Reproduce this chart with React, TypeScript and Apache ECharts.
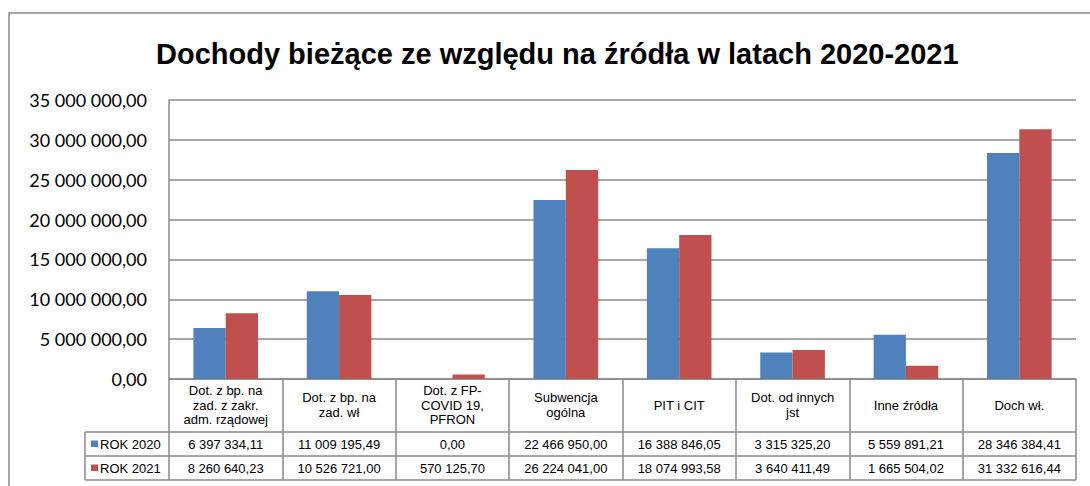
import React, { useEffect, useRef } from "react";
import * as echarts from "echarts";

const titleText = "Dochody bieżące ze względu na źródła w latach 2020-2021";
const categories = [
  "Dot. z bp. na\nzad. z zakr.\nadm. rządowej",
  "Dot. z bp. na\nzad. wł",
  "Dot. z FP-\nCOVID 19,\nPFRON",
  "Subwencja\nogólna",
  "PIT i CIT",
  "Dot. od innych\njst",
  "Inne źródła",
  "Doch wł.",
];
const seriesNames = ["ROK 2020", "ROK 2021"];
const values2020 = [6397334.11, 11009195.49, 0.0, 22466950.0, 16388846.05, 3315325.2, 5559891.21, 28346384.41];
const values2021 = [8260640.23, 10526721.0, 570125.7, 26224041.0, 18074993.58, 3640411.49, 1665504.02, 31332616.44];
const yTicks = { min: 0, max: 35000000, interval: 5000000 };
const colors = ["#4F81BD", "#C0504D"];

function fmt(v: number): string {
  const [i, d] = v.toFixed(2).split(".");
  return i.replace(/\B(?=(\d{3})+(?!\d))/g, " ") + "," + d;
}

const GRID = { left: 169, right: 14, top: 100, bottom: 107 };
const LINE = "#8a8a8a";

export default function App() {
  const ref = useRef<HTMLDivElement>(null);
  useEffect(() => {
    document.body.style.margin = "0";
    document.body.style.overflow = "hidden";
    if (!ref.current) return;
    const chart = echarts.init(ref.current, null, { renderer: "svg" });
    const option: any = {
      animation: false,
      backgroundColor: "#ffffff",
      title: {
        text: titleText,
        left: 151,
        top: 34,
        textStyle: { fontFamily: "Liberation Sans", fontWeight: "bold", fontSize: 29, color: "#000" },
      },
      grid: GRID,
      xAxis: {
        type: "category",
        data: categories,
        axisLine: { show: true, lineStyle: { color: LINE, width: 1.5 } },
        axisTick: { show: true, length: 101, lineStyle: { color: LINE, width: 1.5 } },
        axisLabel: {
          interval: 0,
          margin: 26,
          verticalAlign: "middle",
          fontFamily: "Liberation Sans",
          fontSize: 13,
          lineHeight: 14.5,
          color: "#000",
        },
      },
      yAxis: {
        type: "value",
        min: yTicks.min,
        max: yTicks.max,
        interval: yTicks.interval,
        axisLine: { show: true, lineStyle: { color: LINE, width: 1.5 } },
        axisTick: { show: false },
        splitLine: { lineStyle: { color: LINE, width: 1.5 } },
        axisLabel: {
          margin: 22,
          formatter: (v: number) => fmt(v),
          fontFamily: "Lato",
          fontSize: 18,
          color: "#000",
        },
      },
      series: [
        { name: seriesNames[0], type: "bar", data: values2020, itemStyle: { color: colors[0] }, barGap: "0%", barCategoryGap: "43%" },
        { name: seriesNames[1], type: "bar", data: values2021, itemStyle: { color: colors[1] }, barGap: "0%", barCategoryGap: "43%" },
      ],
    };
    chart.setOption(option);

    const rowY = [432, 456, 480];
    const tableLeft = 85;
    const xRight = 1090 - GRID.right;
    const elements: any[] = [
      {
        type: "rect",
        shape: { x: 9, y: 13, width: 1200, height: 600 },
        style: { fill: "none", stroke: LINE, lineWidth: 1.5 },
        silent: true,
        z: 0,
      },
    ];
    rowY.forEach((y) => {
      elements.push({
        type: "line",
        shape: { x1: tableLeft, y1: y, x2: xRight, y2: y },
        style: { stroke: LINE, lineWidth: 1.5 },
      });
    });
    elements.push({
      type: "line",
      shape: { x1: tableLeft, y1: rowY[0], x2: tableLeft, y2: rowY[2] },
      style: { stroke: LINE, lineWidth: 1.5 },
    });
    const rows = [values2020, values2021];
    rows.forEach((vals, r) => {
      const cy = (rowY[r] + rowY[r + 1]) / 2;
      elements.push({
        type: "rect",
        shape: { x: 91, y: cy - 3.5, width: 7, height: 6.5 },
        style: { fill: colors[r] },
      });
      elements.push({
        type: "text",
        x: 100,
        y: cy,
        style: {
          text: seriesNames[r],
          fontFamily: "Liberation Sans",
          fontSize: 13,
          fill: "#000",
          align: "left",
          verticalAlign: "middle",
        },
      });
      vals.forEach((v, i) => {
        const px = chart.convertToPixel({ xAxisIndex: 0 }, categories[i]) as number;
        elements.push({
          type: "text",
          x: px,
          y: cy,
          style: {
            text: fmt(v),
            fontFamily: "Liberation Sans",
            fontSize: 13,
            fill: "#000",
            align: "center",
            verticalAlign: "middle",
          },
        });
      });
    });
    chart.setOption({ graphic: elements });
    return () => chart.dispose();
  }, []);
  return <div ref={ref} style={{ width: 1090, height: 486 }} />;
}
